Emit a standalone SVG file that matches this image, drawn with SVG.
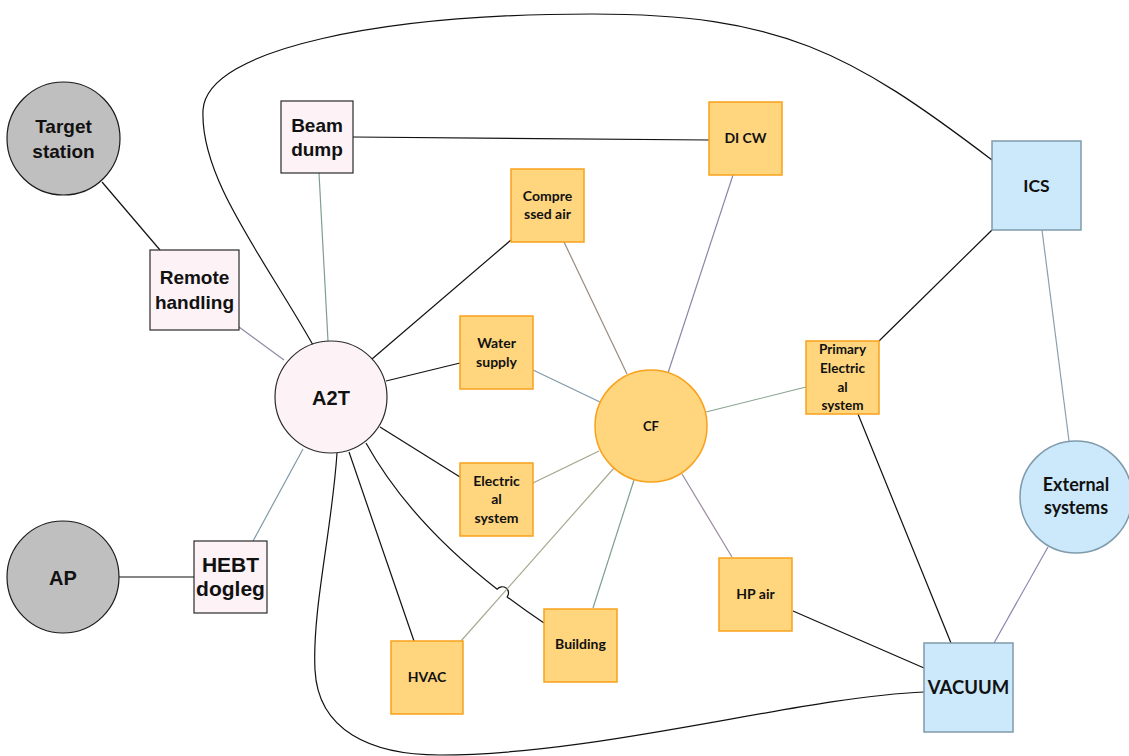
<svg xmlns="http://www.w3.org/2000/svg" width="1129" height="756" viewBox="0 0 1129 756">
  <style>
    .bg { fill: #ffffff; }
    .gray { fill: #bfbfbf; stroke: #1a1a1a; stroke-width: 1.2; }
    .pink { fill: #fdf3f7; stroke: #2a2a2a; stroke-width: 1.2; }
    .orange { fill: #ffd57d; stroke: #f9a11b; stroke-width: 1.5; }
    .blue { fill: #cbe9fb; stroke: #7f9aab; stroke-width: 1.5; }
    .ln { fill: none; stroke-width: 1.2; }
    .k { stroke: #111111; }
    .t1 { font-family: "Liberation Sans", Arial, sans-serif; font-weight: bold; fill: #111; text-anchor: middle; }
    .t2 { font-family: Lato, "Open Sans", sans-serif; font-weight: bold; fill: #111; text-anchor: middle; }
  </style>
  <rect class="bg" x="0" y="0" width="1129" height="756"/>

  <!-- connectors -->
  <g id="connectors">
    <line class="ln k" x1="102" y1="182" x2="160" y2="250"/>
    <line class="ln" stroke="#8b8aa6" x1="239" y1="327" x2="284" y2="360"/>
    <line class="ln" stroke="#7f9f8d" x1="319" y1="173" x2="328" y2="341"/>
    <line class="ln k" x1="353" y1="137" x2="709" y2="140"/>
    <line class="ln k" x1="372" y1="359" x2="511" y2="240"/>
    <line class="ln k" x1="386" y1="381" x2="460" y2="363"/>
    <line class="ln k" x1="380" y1="427" x2="460" y2="477"/>
    <line class="ln k" x1="349" y1="452" x2="414" y2="641"/>
    <!-- A2T to Building, hopping over the HVAC-CF line -->
    <path class="ln k" d="M366,443 Q409.2,520.6 497.2,589.2 A6.3,6.3 0 0 1 507.2,596.9 Q524.8,610.1 544,623"/>
    <line class="ln" stroke="#7f98a8" x1="303" y1="449" x2="253" y2="541"/>
    <line class="ln k" x1="119" y1="577" x2="194" y2="577"/>
    <line class="ln" stroke="#9b8b7d" x1="564" y1="242" x2="627" y2="374"/>
    <line class="ln" stroke="#8a86a8" x1="733" y1="175" x2="668" y2="373"/>
    <line class="ln" stroke="#7f98a8" x1="533" y1="370" x2="600" y2="402"/>
    <line class="ln" stroke="#86a592" x1="706" y1="412" x2="806" y2="387"/>
    <line class="ln" stroke="#a3a68a" x1="533" y1="483" x2="599" y2="451"/>
    <line class="ln" stroke="#a8a890" x1="461" y1="641" x2="614" y2="468"/>
    <line class="ln" stroke="#7f9f8d" x1="593" y1="608" x2="634" y2="480"/>
    <line class="ln" stroke="#9a88a2" x1="682" y1="474" x2="732" y2="557"/>
    <line class="ln k" x1="793" y1="611" x2="924" y2="668"/>
    <line class="ln k" x1="858" y1="414" x2="951" y2="643"/>
    <line class="ln k" x1="879" y1="341" x2="992" y2="230"/>
    <line class="ln" stroke="#8aa0b0" x1="1042" y1="230" x2="1069" y2="441"/>
    <line class="ln" stroke="#8a86b0" x1="1048" y1="547" x2="994" y2="643"/>
    <!-- long loop over the top, A2T to ICS -->
    <path class="ln k" d="M313,345 C262,255 200,178 203,110 C207,48 385,14 592,14 C780,14 850,52 992,160"/>
    <!-- long loop under the bottom, A2T to VACUUM -->
    <path class="ln k" d="M337,453 C332,530 312,610 315,670 C318,730 370,755 440,755 C600,755 800,697 924,692"/>
  </g>

  <!-- nodes -->
  <g id="target-station">
    <circle class="gray" cx="63.5" cy="138.5" r="56.5"/>
    <text class="t1" font-size="19" x="63.5" y="133">Target</text>
    <text class="t1" font-size="19" x="63.5" y="158">station</text>
  </g>
  <g id="beam-dump">
    <rect class="pink" x="281" y="101" width="72" height="72"/>
    <text class="t1" font-size="19" x="317" y="132">Beam</text>
    <text class="t1" font-size="19" x="317" y="156">dump</text>
  </g>
  <g id="remote-handling">
    <rect class="pink" x="150" y="250" width="89" height="80"/>
    <text class="t1" font-size="19" x="194.5" y="284">Remote</text>
    <text class="t1" font-size="19" x="194.5" y="309">handling</text>
  </g>
  <g id="a2t">
    <circle class="pink" cx="331" cy="397" r="56"/>
    <text class="t1" font-size="20" x="331" y="405">A2T</text>
  </g>
  <g id="ap">
    <circle class="gray" cx="63" cy="577" r="56"/>
    <text class="t1" font-size="20" x="63" y="585">AP</text>
  </g>
  <g id="hebt-dogleg">
    <rect class="pink" x="194" y="541" width="73" height="72"/>
    <text class="t1" font-size="21" x="230.5" y="572">HEBT</text>
    <text class="t1" font-size="21" x="230.5" y="596">dogleg</text>
  </g>
  <g id="compressed-air">
    <rect class="orange" x="511" y="169" width="73" height="73"/>
    <text class="t2" font-size="14" x="547.5" y="201">Compre</text>
    <text class="t2" font-size="14" x="547.5" y="219">ssed air</text>
  </g>
  <g id="di-cw">
    <rect class="orange" x="709" y="102" width="73" height="73"/>
    <text class="t2" font-size="14" x="745.5" y="143">DI CW</text>
  </g>
  <g id="water-supply">
    <rect class="orange" x="460" y="316" width="73" height="73"/>
    <text class="t2" font-size="14" x="496.5" y="348">Water</text>
    <text class="t2" font-size="14" x="496.5" y="367">supply</text>
  </g>
  <g id="electrical-system">
    <rect class="orange" x="460" y="463" width="73" height="73"/>
    <text class="t2" font-size="14" x="496.5" y="486">Electric</text>
    <text class="t2" font-size="14" x="496.5" y="504">al</text>
    <text class="t2" font-size="14" x="496.5" y="523">system</text>
  </g>
  <g id="cf">
    <circle class="orange" cx="651" cy="426" r="56"/>
    <text class="t2" font-size="13" x="651" y="431">CF</text>
  </g>
  <g id="hvac">
    <rect class="orange" x="391" y="641" width="72" height="73"/>
    <text class="t2" font-size="14" x="427" y="682">HVAC</text>
  </g>
  <g id="building">
    <rect class="orange" x="544" y="609" width="73" height="73"/>
    <text class="t2" font-size="14" x="580.5" y="649">Building</text>
  </g>
  <g id="hp-air">
    <rect class="orange" x="719" y="558" width="73" height="73"/>
    <text class="t2" font-size="14" x="755.5" y="599">HP air</text>
  </g>
  <g id="primary-electrical-system">
    <rect class="orange" x="806" y="341" width="73" height="73"/>
    <text class="t2" font-size="13.5" x="842.5" y="354">Primary</text>
    <text class="t2" font-size="13.5" x="842.5" y="373">Electric</text>
    <text class="t2" font-size="13.5" x="842.5" y="392">al</text>
    <text class="t2" font-size="13.5" x="842.5" y="410">system</text>
  </g>
  <g id="ics">
    <rect class="blue" x="992" y="141" width="89" height="89"/>
    <text class="t2" font-size="17.5" x="1036.5" y="192">ICS</text>
  </g>
  <g id="external-systems">
    <circle class="blue" cx="1076" cy="497" r="56"/>
    <text class="t2" font-size="18" x="1076" y="491">External</text>
    <text class="t2" font-size="18" x="1076" y="514">systems</text>
  </g>
  <g id="vacuum">
    <rect class="blue" x="924" y="643" width="89" height="89"/>
    <text class="t2" font-size="18.5" x="968.5" y="694">VACUUM</text>
  </g>
</svg>
